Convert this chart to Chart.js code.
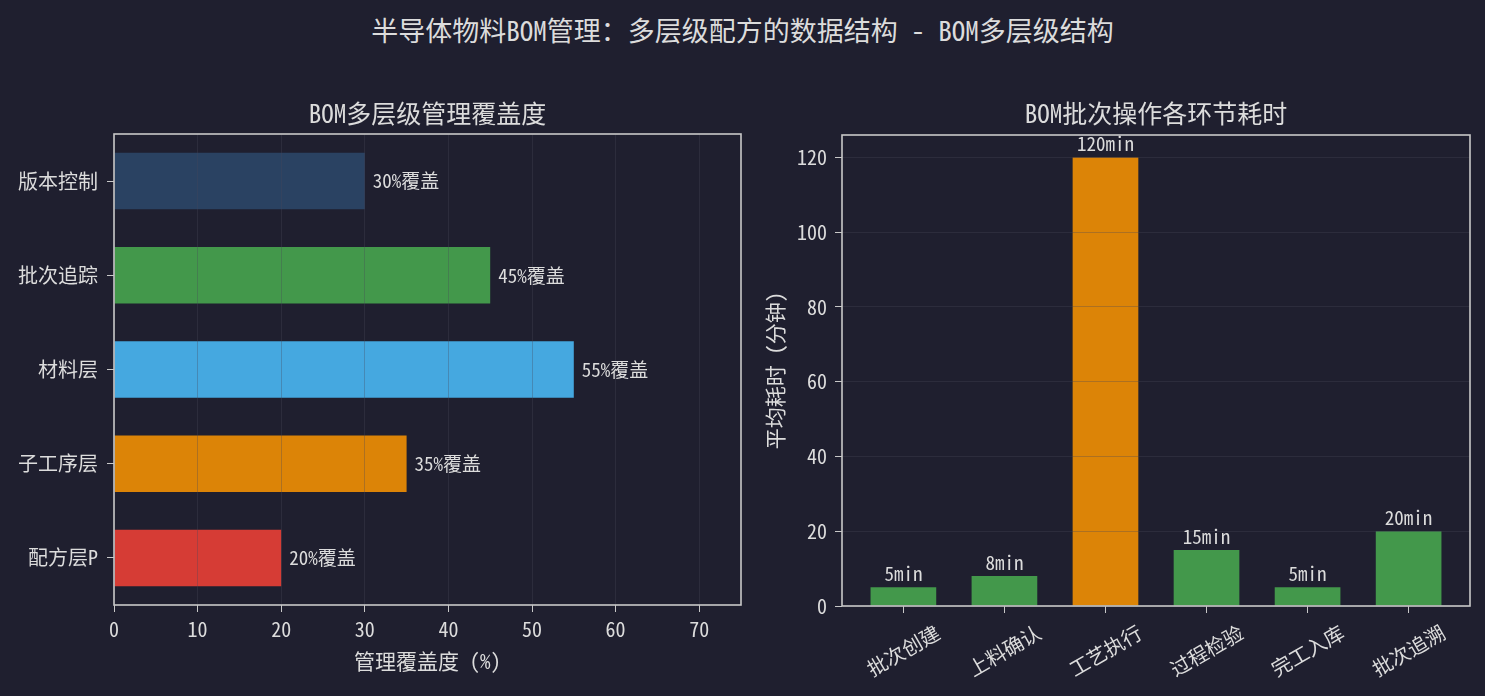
<!DOCTYPE html>
<html>
<head>
<meta charset="utf-8">
<script src="https://cdn.jsdelivr.net/npm/chart.js@4.4.1/dist/chart.umd.min.js"></script>
<style>
  body {
    margin: 0;
    width: 1485px;
    height: 696px;
    overflow: hidden;
    position: relative;
    background: #1f1f2f;
    font-family: "Noto Sans Mono CJK SC", "Noto Sans CJK SC", monospace;
  }
  #suptitle {
    position: absolute;
    top: 14px;
    left: 0;
    width: 1485px;
    text-align: center;
    color: #dcdcdc;
    font-size: 27px;
    line-height: 32px;
  }
  .box { position: absolute; top: 0; height: 696px; }
  #left-box { left: 0; width: 760px; }
  #right-box { left: 760px; width: 725px; }
</style>
</head>
<body>
<div id="suptitle">半导体物料BOM管理：多层级配方的数据结构 - BOM多层级结构</div>
<div class="box" id="left-box"><canvas id="coverageChart"></canvas></div>
<div class="box" id="right-box"><canvas id="timeChart"></canvas></div>
<script>
// Chart data
const layerNames = ["版本控制", "批次追踪", "材料层", "子工序层", "配方层P"];
const layerCoverage = [30, 45, 55, 35, 20];
const layerColors = ["#2a4262", "#43984b", "#45a8e0", "#dc8407", "#d63c35"];

const stepNames = ["批次创建", "上料确认", "工艺执行", "过程检验", "完工入库", "批次追溯"];
const stepMinutes = [5, 8, 120, 15, 5, 20];
const stepColors = ["#43984b", "#43984b", "#dc8407", "#43984b", "#43984b", "#43984b"];

const FONT = '"Noto Sans Mono CJK SC", "Noto Sans CJK SC", monospace';
const TEXT = "#dcdcdc";
const FRAME = "#c8c8c8";
const GRID = "rgba(70, 70, 90, 0.32)";

Chart.defaults.font.family = FONT;
Chart.defaults.color = TEXT;

// Frame, subplot title, value labels and (optionally) rotated category labels
const decorPlugin = {
  id: "decor",
  afterDraw(chart, args, opts) {
    const { ctx, chartArea: a } = chart;
    ctx.save();
    ctx.strokeStyle = FRAME;
    ctx.lineWidth = 1.6;
    ctx.strokeRect(a.left, a.top, a.right - a.left, a.bottom - a.top);

    ctx.fillStyle = TEXT;
    ctx.font = "25px " + FONT;
    ctx.textAlign = "center";
    ctx.textBaseline = "middle";
    ctx.fillText(opts.title, (a.left + a.right) / 2, 113);

    ctx.font = "19px " + FONT;
    const meta = chart.getDatasetMeta(0);
    meta.data.forEach((bar, i) => {
      const v = opts.values[i];
      if (opts.horizontal) {
        ctx.textAlign = "left";
        ctx.textBaseline = "middle";
        ctx.fillText(v + "%覆盖", bar.x + 8, bar.y);
      } else {
        ctx.textAlign = "center";
        ctx.textBaseline = "alphabetic";
        ctx.fillText(v + "min", bar.x, bar.y - 6);
      }
    });

    // rotated x labels, bounding box centred under the tick
    if (opts.xLabels) {
      ctx.font = "20px " + FONT;
      ctx.textAlign = "center";
      ctx.textBaseline = "middle";
      const ang = (30 * Math.PI) / 180;
      opts.xLabels.forEach((name, i) => {
        const w = ctx.measureText(name).width;
        const h = 20;
        const boxH = w * Math.sin(ang) + h * Math.cos(ang);
        const x = chart.scales.x.getPixelForValue(i);
        const y = a.bottom + 16 + boxH / 2;
        ctx.save();
        ctx.translate(x, y);
        ctx.rotate(-ang);
        ctx.fillText(name, 0, 0);
        ctx.restore();
      });
    }
    ctx.restore();
  },
};

// Left: coverage per BOM layer
new Chart(document.getElementById("coverageChart"), {
  type: "bar",
  data: {
    labels: layerNames,
    datasets: [
      {
        data: layerCoverage,
        backgroundColor: layerColors,
        barPercentage: 0.6,
        categoryPercentage: 1,
      },
    ],
  },
  options: {
    indexAxis: "y",
    responsive: true,
    maintainAspectRatio: false,
    animation: false,
    layout: { padding: { top: 134, right: 19, left: 0, bottom: 0 } },
    plugins: {
      legend: { display: false },
      tooltip: { enabled: false },
      decor: { title: "BOM多层级管理覆盖度", horizontal: true, values: layerCoverage },
    },
    scales: {
      x: {
        min: 0,
        max: 75,
        border: { display: false },
        grid: { color: GRID, tickColor: FRAME, tickLength: 7, z: 1 },
        ticks: { stepSize: 10, includeBounds: false, padding: 5, font: { size: 20 } },
        title: {
          display: true,
          text: "管理覆盖度 (%)",
          font: { size: 21 },
          padding: { top: 0, bottom: 22 },
        },
        afterFit: (s) => { s.height = 91; },
      },
      y: {
        border: { display: false },
        grid: { color: "transparent", tickColor: FRAME, tickLength: 7, offset: false },
        ticks: { padding: 9, font: { size: 20 } },
        afterFit: (s) => { s.width = 114; },
      },
    },
  },
  plugins: [decorPlugin],
});

// Right: time per batch step (linear x so the side margins follow the bar width)
new Chart(document.getElementById("timeChart"), {
  type: "bar",
  data: {
    datasets: [
      {
        data: stepMinutes.map((v, i) => ({ x: i, y: v })),
        backgroundColor: stepColors,
        barPercentage: 0.65,
        categoryPercentage: 1,
      },
    ],
  },
  options: {
    responsive: true,
    maintainAspectRatio: false,
    animation: false,
    layout: { padding: { top: 135, right: 15, left: 0, bottom: 0 } },
    plugins: {
      legend: { display: false },
      tooltip: { enabled: false },
      decor: {
        title: "BOM批次操作各环节耗时",
        horizontal: false,
        values: stepMinutes,
        xLabels: stepNames,
      },
    },
    scales: {
      x: {
        type: "linear",
        min: -0.6075,
        max: stepNames.length - 1 + 0.6075,
        offset: false,
        border: { display: false },
        grid: { color: "transparent", tickColor: FRAME, tickLength: 7, offset: false },
        ticks: { display: false },
        afterBuildTicks: (s) => {
          s.ticks = stepNames.map((_, i) => ({ value: i }));
        },
        afterFit: (s) => { s.height = 90; },
      },
      y: {
        min: 0,
        max: 126,
        border: { display: false },
        grid: { color: GRID, tickColor: FRAME, tickLength: 7, z: 1 },
        ticks: { stepSize: 20, includeBounds: false, padding: 8, font: { size: 20 } },
        title: {
          display: true,
          text: "平均耗时 (分钟)",
          font: { size: 21 },
          padding: { top: 2, bottom: 0 },
        },
        afterFit: (s) => { s.width = 82; },
      },
    },
  },
  plugins: [decorPlugin],
});
</script>
</body>
</html>
